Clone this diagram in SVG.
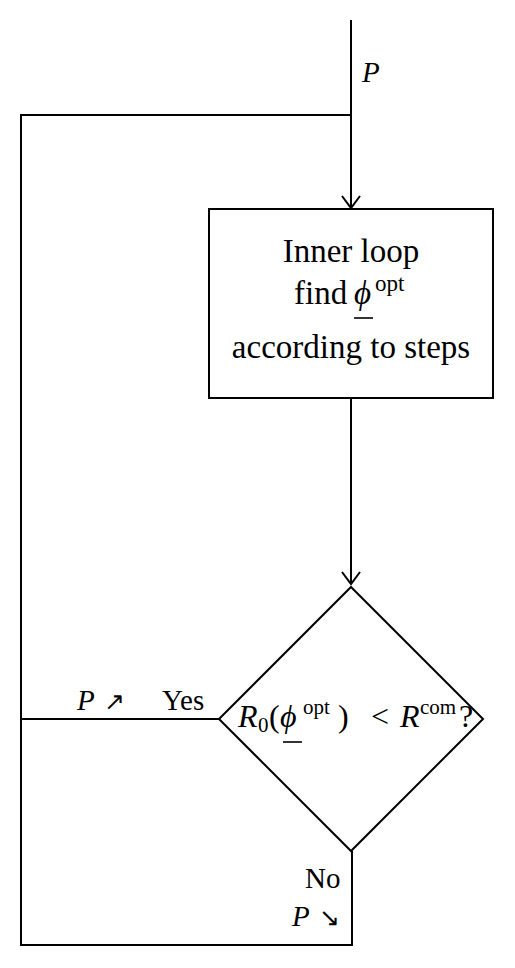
<svg xmlns="http://www.w3.org/2000/svg" width="515" height="968" viewBox="0 0 515 968">
<style>
.ln{fill:none;stroke:#000;stroke-width:2}
.t{font-family:"Liberation Serif",serif;font-size:29px;fill:#000}
.b{font-size:33px}
.d{font-size:32px}
.i{font-style:italic}
.sup{font-size:23px}
.sd{font-size:21px}
.ul{stroke:#000;stroke-width:1.6}
</style>
<defs>
<marker id="ah" viewBox="0 0 20 20" refX="18" refY="10" markerWidth="20" markerHeight="20" markerUnits="userSpaceOnUse" orient="auto">
<path d="M6,1 L18,10 L6,19" fill="none" stroke="#000" stroke-width="2"/>
</marker>
</defs>
<rect width="515" height="968" fill="#fff"/>
<g id="connectors">
<path class="ln" d="M351,20 V208" marker-end="url(#ah)"/>
<path class="ln" d="M351,115 H21 V945 H352 V851"/>
<path class="ln" d="M351,398 V584" marker-end="url(#ah)"/>
<path class="ln" d="M21,719 H219"/>
<text class="t i" x="362" y="82">P</text>
<text class="t" x="77" y="710"><tspan class="i">P</tspan><tspan x="104" font-size="25">↗</tspan></text>
<text class="t" x="162" y="710">Yes</text>
<text class="t" x="305" y="888">No</text>
<text class="t" x="292" y="926"><tspan class="i">P</tspan><tspan x="319" font-size="25">↘</tspan></text>
</g>
<g id="inner-loop">
<rect class="ln" x="209" y="209" width="284" height="189"/>
<text class="t b" x="351" y="262" text-anchor="middle">Inner loop</text>
<text class="t b" x="294" y="304">find<tspan class="i" x="354">ϕ</tspan><tspan class="sup" x="375" dy="-13">opt</tspan></text>
<line class="ul" x1="354" y1="318" x2="373" y2="318"/>
<text class="t b" x="351" y="358" text-anchor="middle">according to steps</text>
</g>
<g id="decision">
<polygon class="ln" points="351,587 483,719 351,851 219,719"/>
<text class="t d" x="238" y="727"><tspan class="i">R</tspan><tspan class="sd" x="258" dy="5">0</tspan><tspan x="269" dy="-5">(</tspan><tspan class="i" x="280">ϕ</tspan><tspan class="sd" x="303" dy="-13">opt</tspan><tspan x="338" dy="13">)</tspan><tspan x="371">&lt;</tspan><tspan class="i" x="400">R</tspan><tspan class="sd" x="420" dy="-13">com</tspan><tspan x="459" dy="13">?</tspan></text>
<line class="ul" x1="283" y1="742" x2="302" y2="742"/>
</g>
</svg>
